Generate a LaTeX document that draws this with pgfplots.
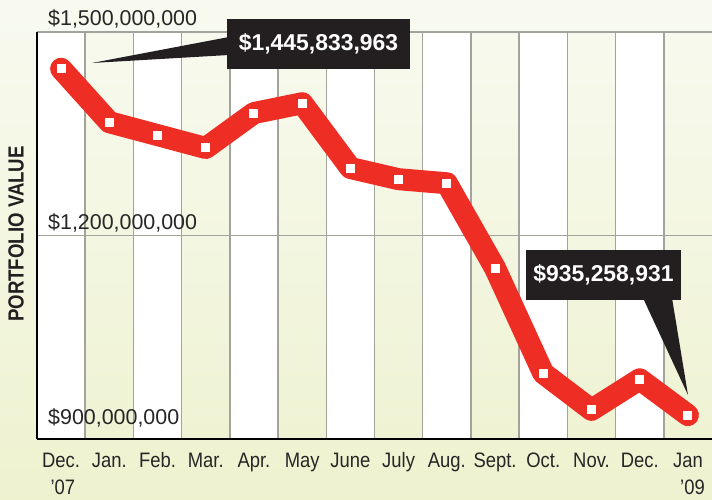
\documentclass[border=0pt]{standalone}
\usepackage{pgfplots}
\pgfplotsset{compat=1.18}
\usepackage{fontspec}
\setmainfont{Liberation Sans}
\newfontfamily\cond[FakeStretch=0.88]{Liberation Sans}
\newfontfamily\heavy[FakeStretch=0.85]{Liberation Sans}
\definecolor{bgtop}{HTML}{F8FAF0}
\definecolor{bgbot}{HTML}{EEF2CF}
\definecolor{gridgray}{HTML}{A3A39B}
\definecolor{redline}{HTML}{EE2D24}
\definecolor{boxblack}{HTML}{231F20}
\newcommand\TL[1]{\rule{0pt}{16bp}#1}
\pgfplotstableread{
x y
0 1445.834
1 1367
2 1348
3 1329
4 1380.5
5 1395
6 1299.5
7 1283
8 1277
9 1152
10 997
11 943
12 988
13 935.259
}\portfolio
\begin{document}
\begin{tikzpicture}[x=1bp,y=1bp]
\useasboundingbox (0,0) rectangle (712,500);
\shade[top color=bgtop, bottom color=bgbot] (0,0) rectangle (712,500);
% white columns
\foreach \i in {0,2,...,12}{
  \fill[white] ({37+\i*675/14},61) rectangle ({37+(\i+1)*675/14},468);
}
\begin{axis}[
  at={(37bp,61bp)}, anchor=south west,
  scale only axis, width=675bp, height=407bp,
  xmin=-0.5, xmax=13.5, ymin=900, ymax=1500,
  clip=false,
  axis x line*=bottom, axis y line*=left,
  axis line style={black, line width=1.6bp, -},
  xtick={0,...,13},
  xticklabels={{\TL{Dec.}\\\,’07},\TL{Jan.},\TL{Feb.},\TL{Mar.},\TL{Apr.},\TL{May},\TL{June},\TL{July},\TL{Aug.},\TL{Sept.},\TL{Oct.},\TL{Nov.},\TL{Dec.},{\TL{Jan}\\\hphantom{J}’09}},
  minor xtick={0.5,1.5,...,12.5},
  xminorgrids=true,
  minor grid style={gridgray, line width=1.5bp},
  ytick={1200,1500},
  yticklabels={},
  ymajorgrids=true,
  major grid style={gridgray, line width=1.5bp},
  major tick length=0pt, minor tick length=0pt,
  xticklabel style={font=\cond\fontsize{21}{27}\selectfont, align=center, anchor=north, inner sep=0pt, yshift=-12bp, text=black!85},
]
\addplot[redline, line width=22bp, line join=round, line cap=round,
  mark=square*, mark size=5bp, mark options={fill=white, draw=none, line width=0pt}]
  table[x=x,y=y] {\portfolio};
\end{axis}
% y value labels
\begin{scope}[every node/.style={font=\fontsize{21.5}{24}\selectfont, text=black!85, inner sep=0pt, anchor=base west}]
\node at (48,474) {\$1,500,000,000};
\node at (48,270) {\$1,200,000,000};
\node at (48,75) {\$900,000,000};
\end{scope}
% y axis title
\node[rotate=90, font=\heavy\bfseries\fontsize{22}{24}\selectfont, text=boxblack, inner sep=0pt] at (16,266) {PORTFOLIO VALUE};
% callout 1
\fill[boxblack] (92,437) -- (229,463) -- (229,445) -- cycle;
\fill[boxblack] (227,431) rectangle (410,481);
\node[text=white, font=\bfseries\fontsize{23}{25}\selectfont, inner sep=0pt] at (318.5,456) {\$1,445,833,963};
% callout 2
\fill[boxblack] (643,202) -- (672,202) -- (688,105) -- cycle;
\fill[boxblack] (526,200) rectangle (681,250);
\node[text=white, font=\bfseries\fontsize{23}{25}\selectfont, inner sep=0pt] at (603.5,225) {\$935,258,931};
\end{tikzpicture}
\end{document}
